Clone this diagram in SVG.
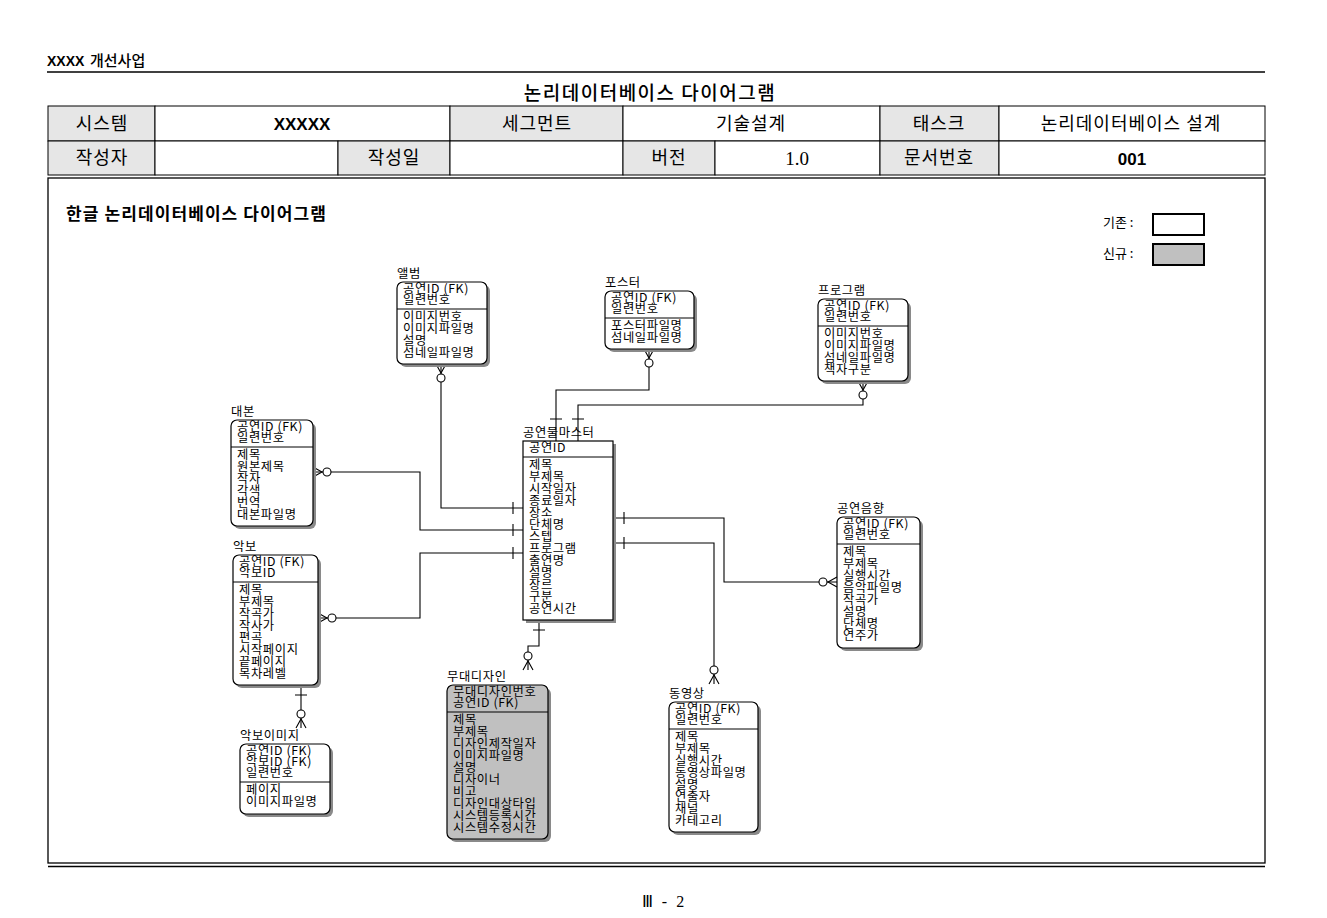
<svg xmlns="http://www.w3.org/2000/svg" width="1327" height="918" viewBox="0 0 1327 918">
<style>
.et{font-family:"Noto Sans CJK KR","Noto Sans",sans-serif;font-size:12.3px;letter-spacing:0.6px;fill:#000}
.box{fill:#fff;stroke:#000;stroke-width:1.2}
.gbox{fill:#c0c0c0;stroke:#000;stroke-width:1.2}
.sh{fill:#8a8a8a}
.sep{stroke:#000;stroke-width:1}
.cn{fill:none;stroke:#000;stroke-width:1.1}
.circ{fill:#fff;stroke:#000;stroke-width:1.1}
.cell{stroke:#000;stroke-width:1}
.g{fill:#e6e6e6}
.w{fill:#fff}
.th{font-family:"Noto Sans CJK KR",sans-serif;font-size:18px;text-anchor:middle;letter-spacing:1px;fill:#000}
.tb{font-family:"Liberation Sans",Arial,sans-serif;font-weight:bold;font-size:17px;text-anchor:middle;fill:#000}
</style>

<g id="header">
<text x="47" y="66" font-family="Liberation Sans, sans-serif" font-weight="bold" font-size="14">XXXX</text>
<text x="90" y="66" font-family="Noto Sans CJK KR, sans-serif" font-size="15" font-weight="500">개선사업</text>
<line x1="47" y1="72" x2="1265" y2="72" stroke="#000" stroke-width="1.3"/>
<text x="650" y="100" font-family="Noto Sans CJK KR, sans-serif" font-size="19" letter-spacing="1.5" text-anchor="middle" font-weight="500">논리데이터베이스 다이어그램</text>
</g>

<g id="info-table">
<rect class="cell g" x="48" y="106" width="107" height="35"/>
<rect class="cell w" x="155" y="106" width="295" height="35"/>
<rect class="cell g" x="450" y="106" width="173" height="35"/>
<rect class="cell w" x="623" y="106" width="257" height="35"/>
<rect class="cell g" x="880" y="106" width="119" height="35"/>
<rect class="cell w" x="999" y="106" width="266" height="35"/>
<rect class="cell g" x="48" y="141" width="107" height="34"/>
<rect class="cell w" x="155" y="141" width="183" height="34"/>
<rect class="cell g" x="338" y="141" width="112" height="34"/>
<rect class="cell w" x="450" y="141" width="173" height="34"/>
<rect class="cell g" x="623" y="141" width="92" height="34"/>
<rect class="cell w" x="715" y="141" width="165" height="34"/>
<rect class="cell g" x="880" y="141" width="119" height="34"/>
<rect class="cell w" x="999" y="141" width="266" height="34"/>
<text class="th" x="102" y="130">시스템</text>
<text class="tb" x="302" y="130">XXXXX</text>
<text class="th" x="537" y="130">세그먼트</text>
<text class="th" x="751" y="130">기술설계</text>
<text class="th" x="939" y="130">태스크</text>
<text class="th" x="1131" y="130">논리데이터베이스 설계</text>
<text class="th" x="102" y="164">작성자</text>
<text class="th" x="394" y="164">작성일</text>
<text class="th" x="669" y="164">버전</text>
<text x="797" y="165" font-family="Liberation Serif, serif" font-size="19" text-anchor="middle">1.0</text>
<text class="th" x="939" y="164">문서번호</text>
<text class="tb" x="1132" y="165">001</text>
</g>

<g id="frame">
<rect x="48" y="178" width="1217" height="685" fill="none" stroke="#000" stroke-width="1.3"/>
<line x1="48" y1="866.5" x2="1265" y2="866.5" stroke="#000" stroke-width="1.3"/>
<text x="66" y="220" font-family="Noto Sans CJK KR, sans-serif" font-size="17" font-weight="bold" letter-spacing="1.1">한글 논리데이터베이스 다이어그램</text>
</g>

<g id="legend">
<text x="1103" y="227" font-family="Noto Sans CJK KR, sans-serif" font-size="13">기존 :</text>
<rect x="1153" y="214" width="51" height="21" fill="#fff" stroke="#000" stroke-width="2"/>
<text x="1103" y="258" font-family="Noto Sans CJK KR, sans-serif" font-size="13">신규 :</text>
<rect x="1153" y="244" width="51" height="21" fill="#c0c0c0" stroke="#000" stroke-width="2"/>
</g>

<g id="connectors">
<path class="cn" d="M441,364 V508 H523"/>
<path class="cn" d="M649,349 V390 H556 V441"/>
<path class="cn" d="M863,381 V405 H578 V441"/>
<path class="cn" d="M313,472 H420 V530 H523"/>
<path class="cn" d="M318,618 H420 V553 H523"/>
<path class="cn" d="M613,518 H724 V582 H837"/>
<path class="cn" d="M613,543 H714 V684"/>
<path class="cn" d="M539,620 V646 H528 V670"/>
<path class="cn" d="M301,685 V728"/>
<path class="cn" d="M513,502 V514 M513,524 V536 M513,547 V559 M550,419 H562 M572,419 H584 M624,512 V524 M624,537 V549 M533,630 H545 M295,695 H307"/>
<path class="cn" d="M436,364 L441,373 L446,364 M644,349 L649,358 L654,349 M858,381 L863,390 L868,381 M313,467 L322,472 L313,477 M318,613 L327,618 L318,623 M837,577 L828,582 L837,587 M709,684 L714,675 L719,684 M523,670 L528,661 L533,670 M296,728 L301,719 L306,728"/>
<circle class="circ" cx="441" cy="378" r="4"/>
<circle class="circ" cx="649" cy="363" r="4"/>
<circle class="circ" cx="863" cy="395" r="4"/>
<circle class="circ" cx="327" cy="472" r="4"/>
<circle class="circ" cx="332" cy="618" r="4"/>
<circle class="circ" cx="823" cy="582" r="4"/>
<circle class="circ" cx="714" cy="670" r="4"/>
<circle class="circ" cx="528" cy="656" r="4"/>
<circle class="circ" cx="301" cy="714" r="4"/>
</g>

<g id="e-album">
<rect class="sh" x="400" y="285" width="90" height="82" rx="6"/>
<rect class="box" x="397" y="282" width="90" height="82" rx="6"/>
<line class="sep" x1="397" y1="309" x2="487" y2="309"/>
<text class="et" x="397" y="278">앨범</text>
<text class="et"><tspan x="403" y="293">공연ID (FK)</tspan><tspan x="403" y="304">일련번호</tspan><tspan x="403" y="320.5">이미지번호</tspan><tspan x="403" y="332.5">이미지파일명</tspan><tspan x="403" y="344.5">설명</tspan><tspan x="403" y="356.5">섬네일파일명</tspan></text>
</g>

<g id="e-poster">
<rect class="sh" x="608" y="294" width="89" height="58" rx="6"/>
<rect class="box" x="605" y="291" width="89" height="58" rx="6"/>
<line class="sep" x1="605" y1="318" x2="694" y2="318"/>
<text class="et" x="605" y="287">포스터</text>
<text class="et"><tspan x="611" y="302">공연ID (FK)</tspan><tspan x="611" y="313">일련번호</tspan><tspan x="611" y="329.5">포스터파일명</tspan><tspan x="611" y="341.5">섬네일파일명</tspan></text>
</g>

<g id="e-program">
<rect class="sh" x="821" y="302" width="90" height="82" rx="6"/>
<rect class="box" x="818" y="299" width="90" height="82" rx="6"/>
<line class="sep" x1="818" y1="326" x2="908" y2="326"/>
<text class="et" x="818" y="295">프로그램</text>
<text class="et"><tspan x="824" y="310">공연ID (FK)</tspan><tspan x="824" y="321">일련번호</tspan><tspan x="824" y="337.5">이미지번호</tspan><tspan x="824" y="349.5">이미지파일명</tspan><tspan x="824" y="361.5">섬네일파일명</tspan><tspan x="824" y="373.5">책자구분</tspan></text>
</g>

<g id="e-script">
<rect class="sh" x="234" y="423" width="82" height="106" rx="6"/>
<rect class="box" x="231" y="420" width="82" height="106" rx="6"/>
<line class="sep" x1="231" y1="447" x2="313" y2="447"/>
<text class="et" x="231" y="416">대본</text>
<text class="et"><tspan x="237" y="431">공연ID (FK)</tspan><tspan x="237" y="442">일련번호</tspan><tspan x="237" y="458.5">제목</tspan><tspan x="237" y="470.5">원본제목</tspan><tspan x="237" y="482.5">작자</tspan><tspan x="237" y="494.5">각색</tspan><tspan x="237" y="506.5">번역</tspan><tspan x="237" y="518.5">대본파일명</tspan></text>
</g>

<g id="e-score">
<rect class="sh" x="236" y="558" width="85" height="130" rx="6"/>
<rect class="box" x="233" y="555" width="85" height="130" rx="6"/>
<line class="sep" x1="233" y1="582" x2="318" y2="582"/>
<text class="et" x="233" y="551">악보</text>
<text class="et"><tspan x="239" y="566">공연ID (FK)</tspan><tspan x="239" y="577">악보ID</tspan><tspan x="239" y="593.5">제목</tspan><tspan x="239" y="605.5">부제목</tspan><tspan x="239" y="617.5">작곡가</tspan><tspan x="239" y="629.5">작사가</tspan><tspan x="239" y="641.5">편곡</tspan><tspan x="239" y="653.5">시작페이지</tspan><tspan x="239" y="665.5">끝페이지</tspan><tspan x="239" y="677.5">목차레벨</tspan></text>
</g>

<g id="e-master">
<rect class="sh" x="526" y="444" width="90" height="179"/>
<rect class="box" x="523" y="441" width="90" height="179"/>
<line class="sep" x1="523" y1="457" x2="613" y2="457"/>
<text class="et" x="523" y="437">공연물마스터</text>
<text class="et"><tspan x="529" y="452">공연ID</tspan><tspan x="529" y="468.5">제목</tspan><tspan x="529" y="480.5">부제목</tspan><tspan x="529" y="492.5">시작일자</tspan><tspan x="529" y="504.5">종료일자</tspan><tspan x="529" y="516.5">장소</tspan><tspan x="529" y="528.5">단체명</tspan><tspan x="529" y="540.5">스텝</tspan><tspan x="529" y="552.5">프로그램</tspan><tspan x="529" y="564.5">출연명</tspan><tspan x="529" y="576.5">설명</tspan><tspan x="529" y="588.5">장르</tspan><tspan x="529" y="600.5">구분</tspan><tspan x="529" y="612.5">공연시간</tspan></text>
</g>

<g id="e-sound">
<rect class="sh" x="840" y="520" width="83" height="131" rx="6"/>
<rect class="box" x="837" y="517" width="83" height="131" rx="6"/>
<line class="sep" x1="837" y1="544" x2="920" y2="544"/>
<text class="et" x="837" y="513">공연음향</text>
<text class="et"><tspan x="843" y="528">공연ID (FK)</tspan><tspan x="843" y="539">일련번호</tspan><tspan x="843" y="555.5">제목</tspan><tspan x="843" y="567.5">부제목</tspan><tspan x="843" y="579.5">실행시간</tspan><tspan x="843" y="591.5">음악파일명</tspan><tspan x="843" y="603.5">작곡가</tspan><tspan x="843" y="615.5">설명</tspan><tspan x="843" y="627.5">단체명</tspan><tspan x="843" y="639.5">연주가</tspan></text>
</g>

<g id="e-stage">
<rect class="sh" x="450" y="688" width="101" height="154" rx="6"/>
<rect class="gbox" x="447" y="685" width="101" height="154" rx="6"/>
<line class="sep" x1="447" y1="712" x2="548" y2="712"/>
<text class="et" x="447" y="681">무대디자인</text>
<text class="et"><tspan x="453" y="696">무대디자인번호</tspan><tspan x="453" y="707">공연ID (FK)</tspan><tspan x="453" y="723.5">제목</tspan><tspan x="453" y="735.5">부제목</tspan><tspan x="453" y="747.5">디자인제작일자</tspan><tspan x="453" y="759.5">이미지파일명</tspan><tspan x="453" y="771.5">설명</tspan><tspan x="453" y="783.5">디자이너</tspan><tspan x="453" y="795.5">비고</tspan><tspan x="453" y="807.5">디자인대상타입</tspan><tspan x="453" y="819.5">시스템등록시간</tspan><tspan x="453" y="831.5">시스템수정시간</tspan></text>
</g>

<g id="e-video">
<rect class="sh" x="672" y="705" width="89" height="130" rx="6"/>
<rect class="box" x="669" y="702" width="89" height="130" rx="6"/>
<line class="sep" x1="669" y1="729" x2="758" y2="729"/>
<text class="et" x="669" y="698">동영상</text>
<text class="et"><tspan x="675" y="713">공연ID (FK)</tspan><tspan x="675" y="724">일련번호</tspan><tspan x="675" y="740.5">제목</tspan><tspan x="675" y="752.5">부제목</tspan><tspan x="675" y="764.5">실행시간</tspan><tspan x="675" y="776.5">동영상파일명</tspan><tspan x="675" y="788.5">설명</tspan><tspan x="675" y="800.5">연출자</tspan><tspan x="675" y="812.5">채널</tspan><tspan x="675" y="824.5">카테고리</tspan></text>
</g>

<g id="e-scoreimage">
<rect class="sh" x="243" y="747" width="90" height="70" rx="6"/>
<rect class="box" x="240" y="744" width="90" height="70" rx="6"/>
<line class="sep" x1="240" y1="782" x2="330" y2="782"/>
<text class="et" x="240" y="740">악보이미지</text>
<text class="et"><tspan x="246" y="755">공연ID (FK)</tspan><tspan x="246" y="766">악보ID (FK)</tspan><tspan x="246" y="777">일련번호</tspan><tspan x="246" y="793.5">페이지</tspan><tspan x="246" y="805.5">이미지파일명</tspan></text>
</g>

<g id="footer">
<text x="663" y="907" font-family="Liberation Serif, serif" font-size="16" word-spacing="5" text-anchor="middle">Ⅲ - 2</text>
</g>
</svg>
